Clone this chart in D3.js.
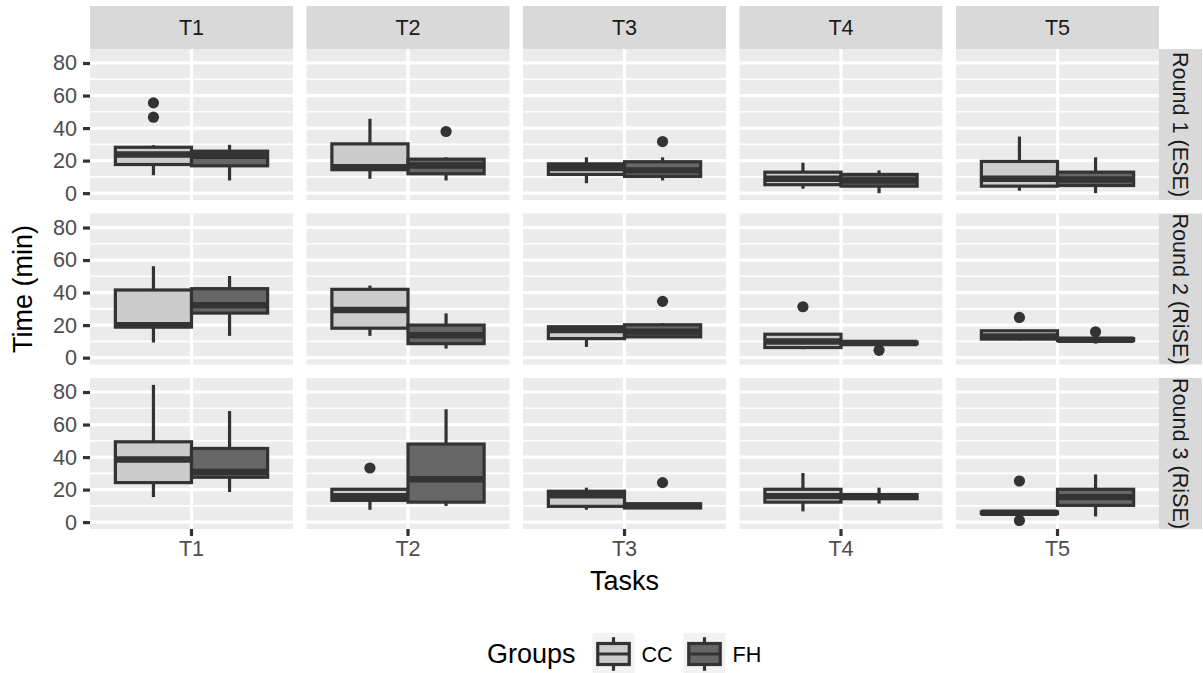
<!DOCTYPE html>
<html>
<head>
<meta charset="utf-8">
<script src="https://cdn.jsdelivr.net/npm/d3@7"></script>
<style>
  html, body { margin: 0; padding: 0; background: #fff; }
  svg { display: block; }
  text { font-family: "Liberation Sans", Arial, Helvetica, sans-serif; }
</style>
</head>
<body>
<svg id="chart" width="1203" height="673"></svg>
<script>
// ---------------- data ----------------
const tasks = ["T1", "T2", "T3", "T4", "T5"];
const rounds = ["Round 1 (ESE)", "Round 2 (RiSE)", "Round 3 (RiSE)"];
const groups = ["CC", "FH"];
const yTicks = [0, 20, 40, 60, 80];
const yMinorTicks = [10, 30, 50, 70];

// box stats per task: [lower whisker, Q1, median, Q3, upper whisker]
const round1CC = [[11, 17.6, 23.8, 28.2, 29.5], [8.8, 14.4, 16, 30.3, 45.7], [6.1, 11.5, 15.5, 18, 22], [2.7, 5.2, 8.8, 12.9, 18.7], [1.5, 4.3, 8.8, 19.5, 34.8]];
const round1FH = [[7.8, 16.8, 23, 25.8, 29.7], [7.8, 11.9, 17, 20.9, 22], [7.8, 10.3, 14, 19.3, 22], [0, 4.3, 7.8, 11.5, 14], [0, 4.7, 8.4, 12.9, 22]];
const round2CC = [[9.3, 18.8, 20, 41.6, 56.2], [13.4, 18.1, 29.3, 42, 44.3], [6.6, 11.7, 16.9, 19, 19], [5.2, 6.2, 9.9, 14.4, 15], [10.7, 11.4, 13, 16.5, 17]];
const round2FH = [[13.4, 27.4, 32.3, 42.4, 50.2], [5.6, 8.6, 13.8, 20, 27.2], [12.8, 12.8, 16, 20.2, 21.2], [8.5, 8.5, 9, 9.5, 9.5], [8.6, 10.5, 11, 11.7, 13]];
const round3CC = [[15.4, 24.3, 38.5, 49.4, 84.4], [7.6, 13.4, 16, 20.2, 20.2], [7.6, 9.7, 16.5, 19, 21.2], [6.6, 12.3, 16, 20.2, 30.2], [5, 5.2, 5.8, 6.3, 6.5]];
const round3FH = [[18.5, 27.6, 30.9, 45.3, 68.3], [9.9, 12.3, 26.4, 48, 69.4], [8.7, 8.7, 10, 11.3, 11.3], [11.4, 14.4, 15.9, 16.9, 21.2], [3.5, 10.3, 15.4, 20.2, 29.3]];

// outliers per task
const round1CCOut = [[46.7, 55.5], [], [], [], []];
const round1FHOut = [[], [37.9], [31.7], [], []];
const round2CCOut = [[], [], [], [31.3], [24.7]];
const round2FHOut = [[], [], [34.6], [4.5], [15.9]];
const round3CCOut = [[], [33.3], [], [], [25.3, 1.0]];
const round3FHOut = [[], [], [24.3], [], []];

const stats = [[round1CC, round1FH], [round2CC, round2FH], [round3CC, round3FH]];
const outliers = [[round1CCOut, round1FHOut], [round2CCOut, round2FHOut], [round3CCOut, round3FHOut]];

// ---------------- layout ----------------
const fills = { CC: "#CCCCCC", FH: "#666666" };
const dark = "#333333";
const panelX0 = 90, panelW = 203, panelGap = 13.5;
const panelY0 = 49, panelH = 151;
const stripH = 43;
const fontTick = 21.6, fontTitle = 27;
const boxLW = 3.2, medLW = 6.4;

const svg = d3.select("#chart");

// global y domain like ggplot (5% expansion of data range)
let allVals = [];
stats.forEach(r => r.forEach(g => g.forEach(s => allVals.push(...s))));
outliers.forEach(r => r.forEach(g => g.forEach(o => allVals.push(...o))));
const dMin = Math.min(0, d3.min(allVals)), dMax = d3.max(allVals);
const ext = (dMax - dMin) * 0.05;
const yDomain = [dMin - ext, dMax + ext];

const colX = i => panelX0 + i * (panelW + panelGap);
const rowY = j => panelY0 + j * (panelH + panelGap);

// strips on top
tasks.forEach((t, i) => {
  svg.append("rect").attr("x", colX(i)).attr("y", panelY0 - stripH)
    .attr("width", panelW).attr("height", stripH).attr("fill", "#D9D9D9");
  svg.append("text").attr("x", colX(i) + panelW / 2).attr("y", panelY0 - stripH / 2)
    .attr("text-anchor", "middle").attr("dominant-baseline", "central")
    .attr("font-size", fontTick).attr("fill", "#1A1A1A").text(t);
});

// strips on right
const rightX = colX(4) + panelW;
rounds.forEach((r, j) => {
  svg.append("rect").attr("x", rightX).attr("y", rowY(j))
    .attr("width", stripH).attr("height", panelH).attr("fill", "#D9D9D9");
  const cx = rightX + stripH / 2, cy = rowY(j) + panelH / 2;
  svg.append("text").attr("transform", `translate(${cx},${cy}) rotate(90)`)
    .attr("text-anchor", "middle").attr("dominant-baseline", "central")
    .attr("font-size", fontTick).attr("fill", "#1A1A1A").text(r);
});

rounds.forEach((r, j) => {
  const y = d3.scaleLinear().domain(yDomain).range([rowY(j) + panelH, rowY(j)]);

  // y axis (left of first column)
  const yAxisG = svg.append("g").attr("transform", `translate(${panelX0},0)`);
  const yAxis = d3.axisLeft(y).tickValues(yTicks).tickSize(7).tickPadding(6).tickFormat(d3.format("d"));
  yAxisG.call(yAxis);
  yAxisG.select(".domain").remove();
  yAxisG.selectAll(".tick line").attr("stroke", dark).attr("stroke-width", boxLW);
  yAxisG.selectAll(".tick text").attr("font-size", fontTick).attr("fill", "#4D4D4D")
    .attr("font-family", "Liberation Sans, Arial, sans-serif");

  tasks.forEach((t, i) => {
    const x = d3.scaleLinear().domain([0.4, 1.6]).range([colX(i), colX(i) + panelW]);
    const xg = d3.scaleBand().domain(groups).range([x(0.55), x(1.45)]).padding(0);
    const g = svg.append("g");

    g.append("rect").attr("x", colX(i)).attr("y", rowY(j))
      .attr("width", panelW).attr("height", panelH).attr("fill", "#EBEBEB");

    g.selectAll("line.minor").data(yMinorTicks).join("line")
      .attr("x1", colX(i)).attr("x2", colX(i) + panelW)
      .attr("y1", d => y(d)).attr("y2", d => y(d))
      .attr("stroke", "#fff").attr("stroke-width", 1.6);
    g.selectAll("line.major").data(yTicks).join("line")
      .attr("x1", colX(i)).attr("x2", colX(i) + panelW)
      .attr("y1", d => y(d)).attr("y2", d => y(d))
      .attr("stroke", "#fff").attr("stroke-width", boxLW);
    g.append("line").attr("x1", x(1)).attr("x2", x(1))
      .attr("y1", rowY(j)).attr("y2", rowY(j) + panelH)
      .attr("stroke", "#fff").attr("stroke-width", boxLW);

    groups.forEach((grp, k) => {
      const s = stats[j][k][i];
      const outs = outliers[j][k][i];
      const cx = xg(grp) + xg.bandwidth() / 2;
      // outliers
      g.selectAll(null).data(outs).join("circle")
        .attr("cx", cx).attr("cy", d => y(d)).attr("r", 5.6).attr("fill", dark);
      // whiskers
      g.append("line").attr("x1", cx).attr("x2", cx).attr("y1", y(s[0])).attr("y2", y(s[1]))
        .attr("stroke", dark).attr("stroke-width", boxLW);
      g.append("line").attr("x1", cx).attr("x2", cx).attr("y1", y(s[3])).attr("y2", y(s[4]))
        .attr("stroke", dark).attr("stroke-width", boxLW);
      // box
      g.append("rect").attr("x", xg(grp)).attr("y", y(s[3]))
        .attr("width", xg.bandwidth()).attr("height", Math.max(0, y(s[1]) - y(s[3])))
        .attr("fill", fills[grp]).attr("stroke", dark).attr("stroke-width", boxLW);
      // median
      g.append("line").attr("x1", xg(grp)).attr("x2", xg(grp) + xg.bandwidth())
        .attr("y1", y(s[2])).attr("y2", y(s[2]))
        .attr("stroke", dark).attr("stroke-width", medLW);
    });

    // x axis on bottom row
    if (j === rounds.length - 1) {
      const xb = d3.scaleBand().domain([t]).range([colX(i), colX(i) + panelW]);
      const xAxisG = svg.append("g").attr("transform", `translate(0,${rowY(j) + panelH})`);
      xAxisG.call(d3.axisBottom(xb).tickSize(7).tickPadding(5));
      xAxisG.select(".domain").remove();
      xAxisG.selectAll(".tick line").attr("stroke", dark).attr("stroke-width", boxLW);
      xAxisG.selectAll(".tick text").attr("font-size", fontTick).attr("fill", "#4D4D4D")
        .attr("font-family", "Liberation Sans, Arial, sans-serif");
    }
  });
});

// axis titles
svg.append("text").attr("x", panelX0 + (rightX - panelX0) / 2).attr("y", 590)
  .attr("text-anchor", "middle").attr("font-size", fontTitle).attr("fill", "#000").text("Tasks");
svg.append("text").attr("transform", `translate(32,${panelY0 + (3 * panelH + 2 * panelGap) / 2}) rotate(-90)`)
  .attr("text-anchor", "middle").attr("font-size", fontTitle).attr("fill", "#000").text("Time (min)");

// legend
const legY = 633, keyS = 42;
svg.append("text").attr("x", 487).attr("y", legY + keyS / 2).attr("dominant-baseline", "central")
  .attr("font-size", fontTitle).attr("fill", "#000").text("Groups");
const keyX = { CC: 592.5, FH: 683.5 };
groups.forEach(grp => {
  const kx = keyX[grp];
  const kg = svg.append("g").attr("transform", `translate(${kx},${legY})`);
  kg.append("rect").attr("width", keyS).attr("height", keyS).attr("fill", "#F2F2F2");
  kg.append("line").attr("x1", keyS / 2).attr("x2", keyS / 2).attr("y1", keyS * 0.1).attr("y2", keyS * 0.9)
    .attr("stroke", dark).attr("stroke-width", boxLW);
  kg.append("rect").attr("x", keyS * 0.125).attr("y", keyS * 0.25)
    .attr("width", keyS * 0.75).attr("height", keyS * 0.5)
    .attr("fill", fills[grp]).attr("stroke", dark).attr("stroke-width", boxLW);
  kg.append("line").attr("x1", keyS * 0.125).attr("x2", keyS * 0.875).attr("y1", keyS / 2).attr("y2", keyS / 2)
    .attr("stroke", dark).attr("stroke-width", boxLW);
  svg.append("text").attr("x", kx + keyS + 7).attr("y", legY + keyS / 2).attr("dominant-baseline", "central")
    .attr("font-size", fontTick).attr("fill", "#000").text(grp);
});
</script>
</body>
</html>
